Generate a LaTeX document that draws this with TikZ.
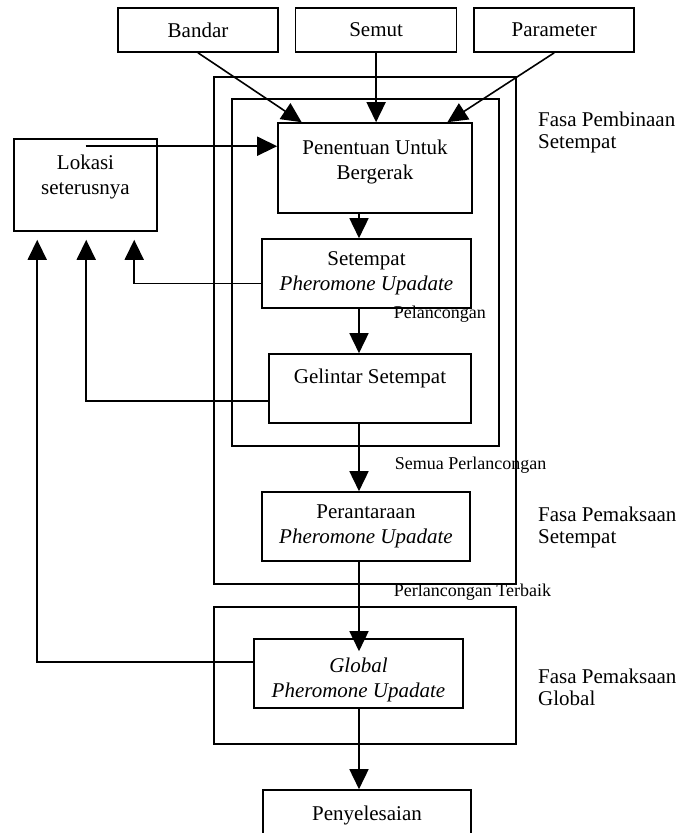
\documentclass[tikz,border=0pt]{standalone}
\usepackage{fontspec}
\setmainfont{Liberation Serif}
\usetikzlibrary{arrows.meta, calc, positioning}

\begin{document}
\begin{tikzpicture}[x=1pt, y=-1pt,
  kotak/.style={draw, line width=1.6pt, inner sep=0pt, align=center, font=\fontsize{21}{25}\selectfont},
  panah/.style={line width=1.6pt, -{Triangle[length=20pt,width=19pt]}},
  garis/.style={line width=1.6pt},
  ket/.style={font=\fontsize{18}{20}\selectfont, anchor=west, inner sep=0pt},
  fasa/.style={font=\fontsize{21}{22}\selectfont, align=left, anchor=west, inner sep=0pt}]
% Size of the page
\useasboundingbox (0,0) rectangle (681,833);
\clip (0,0) rectangle (681,833);
% Phase frames
\draw[garis] (214,77) rectangle (516,584);
\draw[garis] (232,99) rectangle (499,446);
\draw[garis] (214,607) rectangle (516,744);
% Inputs on top
\node[kotak, minimum width=160pt, minimum height=44pt] (bandar) at (198,30) {Bandar};
\node[kotak, minimum width=161pt, minimum height=44pt, right=16pt of bandar] (semut) {Semut};
\node[kotak, minimum width=160pt, minimum height=44pt, right=16pt of semut] (parameter) {Parameter};
% Steps of the tour
\node[kotak, minimum width=194pt, minimum height=90pt] (penentuan) at (375,168) {Penentuan Untuk\\Bergerak\\[-8pt]\mbox{}};
\node[kotak, minimum width=143pt, minimum height=92pt] (lokasi) at (85.5,185) {Lokasi\\seterusnya\\[-5pt]\mbox{}};
\node[kotak, minimum width=209pt, minimum height=69pt] (setempat) at (366.5,273.5) {Setempat\\\textit{Pheromone Upadate}};
\node[kotak, minimum width=202pt, minimum height=69pt] (gelintar) at (370,388.5) {Gelintar Setempat\\\mbox{}};
\node[kotak, minimum width=208pt, minimum height=69pt] (perantaraan) at (366,526.5) {Perantaraan\\\textit{Pheromone Upadate}};
\node[kotak, minimum width=209pt, minimum height=69pt] (global) at (358.5,673.5) {\mbox{}\\[2pt]\textit{Global}\\\textit{Pheromone Upadate}};
\node[kotak, minimum width=208pt, minimum height=50pt] (selesai) at (367,815) {Penyelesaian};
% Phase names
\node[fasa] (fasa1) at (538,132.5) {Fasa Pembinaan\\Setempat};
\node[fasa] (fasa2) at (538,527.5) {Fasa Pemaksaan\\Setempat};
\node[fasa] (fasa3) at (538,687) {Fasa Pemaksaan\\Global};
% Inputs into the first step
\draw[panah] (bandar.south) -- ($(penentuan.north west)!0.125!(penentuan.north east)$);
\draw[panah] (semut.south) -- (semut.south |- penentuan.north);
\draw[panah] (parameter.south) -- ($(penentuan.north west)!0.87!(penentuan.north east)$);
\draw[panah] ($(lokasi.north)+(0,8)$) coordinate (mula) -- (mula -| penentuan.west);
% Main flow
\coordinate (jalur) at (359,0);
\draw[panah] (penentuan.south -| jalur) -- (setempat.north -| jalur);
\draw[panah] (setempat.south -| jalur) -- node[ket, pos=0.13, xshift=34pt] {Pelancongan} (gelintar.north -| jalur);
\draw[panah] (gelintar.south -| jalur) -- node[ket, pos=0.62, xshift=35pt] {Semua Perlancongan} (perantaraan.north -| jalur);
\draw[panah] (perantaraan.south -| jalur) -- node[ket, pos=0.34, xshift=34pt] {Perlancongan Terbaik} ($(global.north -| jalur)+(0,13)$);
\draw[panah] (global.south -| jalur) -- (selesai.north -| jalur);
% Feedback to the next location
\coordinate (balik1) at ($(lokasi.south west)+(24,8)$);
\coordinate (balik2) at ($(lokasi.south west)+(73,8)$);
\coordinate (balik3) at ($(lokasi.south west)+(121,8)$);
\draw[panah] ($(setempat.west)+(0,10)$) -| (balik3);
\draw[panah] ($(gelintar.west)+(0,12.5)$) -| (balik2);
\draw[panah] ($(global.west)+(0,-11.5)$) -| (balik1);
\end{tikzpicture}
\end{document}
